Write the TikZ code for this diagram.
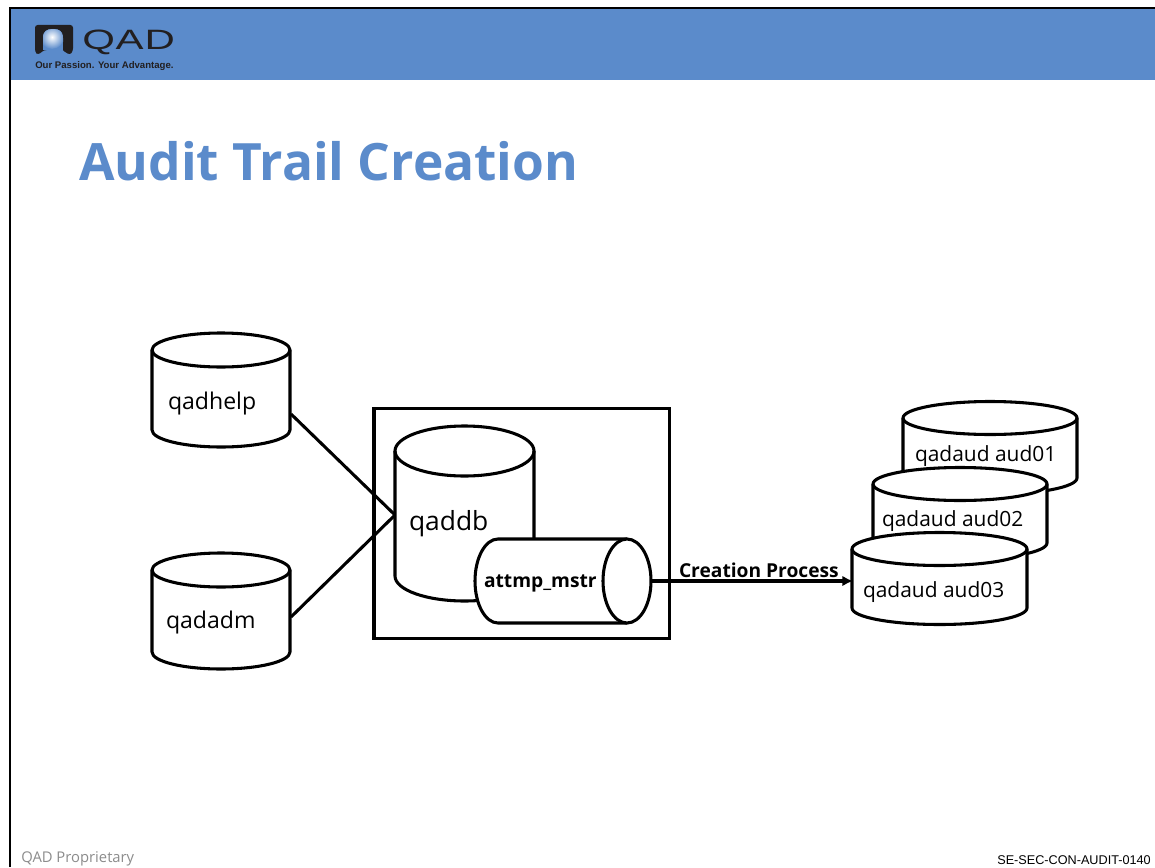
\documentclass[tikz,border=0pt]{standalone}
\usetikzlibrary{arrows.meta}
\usepackage{fontspec}
\setmainfont{Open Sans}
\newfontfamily\arialf{Liberation Sans}
\newfontfamily\qadf{Liberation Sans}[FakeStretch=1.5,LetterSpace=3]
\newfontfamily\boldf{Open Sans}[UprightFont=* Bold]
\definecolor{hdr}{HTML}{5B8BCB}
\definecolor{ttl}{HTML}{5B8BCB}
\definecolor{foot}{HTML}{8C8C8C}
\definecolor{logok}{HTML}{221F20}
\tikzset{
  x=0.75pt,y=-0.75pt,
  cyl/.style={draw=black,line width=2.3pt,fill=white,line join=round},
  cyledge/.style={draw=black,line width=2.3pt,line join=round},
  lab/.style={anchor=base west,inner sep=0pt,outer sep=0pt,text=black,font=\fontsize{17.3}{20}\selectfont},
  audlab/.style={lab,font=\fontsize{15.7}{20}\selectfont},
  boldlab/.style={lab,font=\boldf\fontsize{14.4}{16}\selectfont},
  link/.style={draw=black,line width=2.3pt},
}
% x1, x2, top centre y, ry, side bottom y
\newcommand{\vcyl}[5]{%
  \pgfmathsetmacro{\rx}{(#2-#1)/2}%
  \path[cyl] (#1,#3) -- (#1,#5) arc[start angle=180,end angle=0,x radius=\rx,y radius=#4] -- (#2,#3) arc[start angle=0,end angle=-180,x radius=\rx,y radius=#4] -- cycle;
  \path[cyledge] (#1,#3) arc[start angle=180,end angle=0,x radius=\rx,y radius=#4];
}
\begin{document}
\begin{tikzpicture}
\useasboundingbox (0,0) rectangle (1155,867);
\fill[white] (0,0) rectangle (1155,867);
% header
\fill[hdr] (10,8) rectangle (1155,80);
\draw[black,line width=2pt] (10,867) -- (10,8) -- (1155,8);
% logo
\fill[logok,rounded corners=2pt] (35,25) -- (73,25) -- (73,51) -- (70,55) -- (62,50) -- (62,50) -- (44,50) -- (38,55) -- (35,52) -- cycle;
\begin{scope}
  \clip (43,50) -- (43,38) .. controls (43,31) and (47,29) .. (53,29) .. controls (59,29) and (63,31) .. (63,38) -- (63,50) -- cycle;
  \fill[hdr] (43,29) rectangle (63,50);
  \shade[inner color=white,outer color=hdr] (52,37) circle[radius=12];
\end{scope}
\node[inner sep=0pt,anchor=base west,text=logok] (logoname) at (82,50) {\qadf\fontsize{21}{24}\selectfont QAD};
\node[inner sep=0pt,anchor=base west,text=logok] (logotag) at (35,69) {\arialf\bfseries\fontsize{7.2}{8}\selectfont Our Passion. Your Advantage.};
% title
\node[inner sep=0pt,anchor=base west,text=ttl] (title) at (79,180) {\boldf\fontsize{38.6}{44}\selectfont Audit Trail Creation};
% left cylinders
\vcyl{152}{290}{350}{17}{430}
\node[lab] (qadhelp) at (168,409) {qadhelp};
\vcyl{152}{290}{570}{17}{652}
\node[lab] (qadadm) at (166,628) {qadadm};
% box
\node[draw=black,line width=2.6pt,fill=white,minimum width=221.6pt,minimum height=172.5pt,inner sep=0pt,outer sep=0pt,anchor=north west] (box) at (374,408.5) {};
% joins
\coordinate (helpout) at (291,414);
\coordinate (admout) at (291,617);
\coordinate (dbin) at (395,515);
\draw[link] (helpout) -- (dbin);
\draw[link] (admout) -- (dbin);
% qaddb
\vcyl{395}{534}{451}{25}{576}
\node[lab,font=\fontsize{19.8}{24}\selectfont] (qaddb) at (409,530) {qaddb};
% attmp_mstr
\path[cyl] (627,539) -- (498,539) arc[start angle=270,end angle=90,x radius=23,y radius=42] -- (627,623);
\path[cyl] (627,581) ellipse[x radius=24,y radius=42];
\node[boldlab] (attmp) at (484,587) {attmp\_mstr};
% audit cylinders
\vcyl{903}{1077}{418}{16.5}{478}
\node[audlab] (aud01) at (915,461) {qadaud aud01};
\vcyl{873}{1047}{484}{16.5}{543}
\node[audlab] (aud02) at (882,526) {qadaud aud02};
\vcyl{852}{1027}{549}{16.5}{608}
\node[audlab] (aud03) at (863,597) {qadaud aud03};
% arrow
\coordinate (attout) at (651,581);
\coordinate (audin) at (853,581);
\draw[link,-{Latex[length=8pt,width=8pt]}] (attout) -- (audin);
\node[boldlab] (creation) at (679,577) {Creation Process};
% footer
\node[inner sep=0pt,anchor=base west,text=foot] (prop) at (21,862) {\fontsize{11.1}{13}\selectfont QAD Proprietary};
\node[inner sep=0pt,anchor=base east,text=black] (code) at (1151,864) {\arialf\fontsize{9.5}{10}\selectfont SE-SEC-CON-AUDIT-0140};
\end{tikzpicture}
\end{document}
